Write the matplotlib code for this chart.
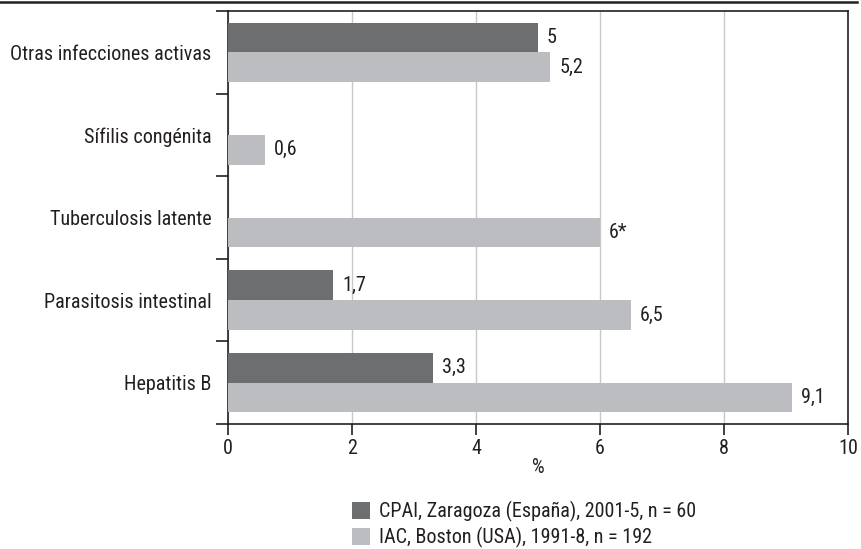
import matplotlib
matplotlib.use("Agg")
import matplotlib.pyplot as plt
from matplotlib.lines import Line2D
from matplotlib.patches import Patch
import numpy as np

plt.rcParams['font.family'] = ['Roboto Condensed', 'DejaVu Sans']
plt.rcParams['font.weight'] = 'normal'
plt.rcParams['axes.labelweight'] = 'normal'

categories = ["Otras infecciones activas", "Sífilis congénita", "Tuberculosis latente",
              "Parasitosis intestinal", "Hepatitis B"]
cpai = [5.0, None, None, 1.7, 3.3]
iac = [5.2, 0.6, 6.0, 6.5, 9.1]
iac_notes = ["", "", "*", "", ""]
series_names = ["CPAI, Zaragoza (España), 2001-5, n = 60", "IAC, Boston (USA), 1991-8, n = 192"]
xticks = [0, 2, 4, 6, 8, 10]

dark = "#6d6e70"
light = "#bcbdc0"
ink = "#231f20"
FS = 14.5

def fmt(v):
    return ("%g" % v).replace(".", ",")

fig = plt.figure(figsize=(8.61, 5.49), dpi=100)
ax = fig.add_axes([228/861, 1-424/549, 620/861, 413/549])

y = np.arange(len(categories))
h = 0.36
off = 0.18
for i, v in enumerate(cpai):
    if v is None:
        continue
    ax.barh(y[i]-off, v, height=h, color=dark, zorder=3)
    ax.annotate(fmt(v), (v, y[i]-off), xytext=(9, 0), textcoords='offset pixels',
                va='center', ha='left', fontsize=FS, color=ink)
for i, v in enumerate(iac):
    ax.barh(y[i]+off, v, height=h, color=light, zorder=3)
    ax.annotate(fmt(v)+iac_notes[i], (v, y[i]+off), xytext=(9, 0), textcoords='offset pixels',
                va='center', ha='left', fontsize=FS, color=ink)

ax.set_xlim(0, 10)
ax.set_ylim(len(categories)-0.5, -0.5)
ax.set_xticks(xticks)
ax.set_xticklabels([str(t) for t in xticks], fontsize=FS, color=ink)
ax.set_yticks(y)
ax.set_yticklabels(categories, fontsize=FS, color=ink)
ax.tick_params(axis='y', which='major', length=0, pad=12)
ax.set_yticks(np.arange(-0.5, len(categories)), minor=True)
ax.tick_params(axis='y', which='minor', length=9, width=1.2, color=ink, direction='out')
ax.tick_params(axis='x', which='major', length=8, width=1.2, color=ink, direction='out', pad=3)
ax.set_xlabel("%", fontsize=FS, color=ink, labelpad=0, fontweight='normal')
for s in ax.spines.values():
    s.set_color(ink)
    s.set_linewidth(1.2)
ax.grid(axis='x', color="#c8c8c8", linewidth=1, zorder=0)
ax.set_axisbelow(True)

fig.add_artist(Line2D([0, 857/861], [1-2/549, 1-2/549], color=ink, linewidth=1.8))

handles = [Patch(facecolor=dark, edgecolor='none'), Patch(facecolor=light, edgecolor='none')]
fig.legend(handles, series_names, loc='upper left', bbox_to_anchor=(352/861, 1-501/549),
           frameon=False, fontsize=FS, handlelength=0.9, handleheight=0.9,
           handletextpad=0.45, labelspacing=0.25, borderaxespad=0, borderpad=0,
           labelcolor=ink)

fig.savefig("out.png", dpi=100)
